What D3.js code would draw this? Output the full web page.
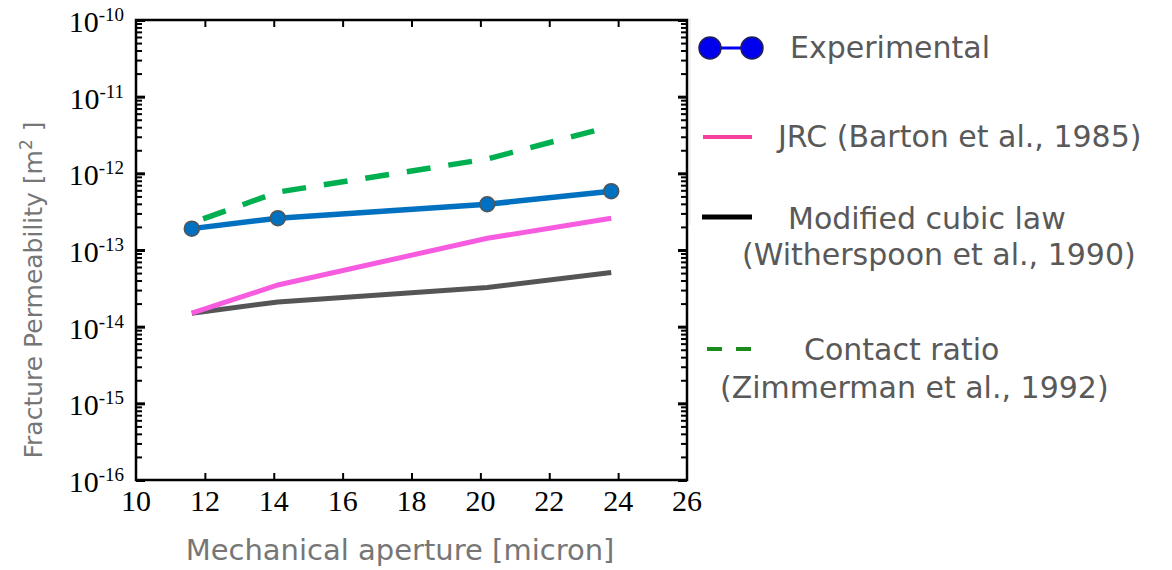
<!DOCTYPE html>
<html>
<head>
<meta charset="utf-8">
<script src="https://cdn.jsdelivr.net/npm/d3@7"></script>
<style>
html,body{margin:0;padding:0;background:#fff;}
svg{display:block;}
</style>
</head>
<body>
<svg id="chart" width="1172" height="570"></svg>
<script>
// ---- data ----
const apertures = [11.62, 14.12, 20.2, 23.8];
const experimental = [1.9e-13, 2.6e-13, 3.95e-13, 5.85e-13];
const jrcBarton = [1.5e-14, 3.5e-14, 1.42e-13, 2.6e-13];
const modifiedCubic = [1.5e-14, 2.1e-14, 3.25e-14, 5.1e-14];
const contactRatio = [2.25e-13, 5.7e-13, 1.54e-12, 4.1e-12];
const xTicks = [10, 12, 14, 16, 18, 20, 22, 24, 26];
const yExponents = [-10, -11, -12, -13, -14, -15, -16];
const legendLabels = [
  ["Experimental"],
  ["JRC (Barton et al., 1985)"],
  ["Modified cubic law", "(Witherspoon et al., 1990)"],
  ["Contact ratio", "(Zimmerman et al., 1992)"]
];

const svg = d3.select("#chart");
const L = 136, R = 687, T = 20, B = 480;
const x = d3.scaleLinear().domain([10, 26]).range([L, R]);
const y = d3.scaleLog().domain([1e-16, 1e-10]).range([B, T]);

// minor/major log ticks
const majors = yExponents.map(e => Math.pow(10, e));
const minors = [];
for (let e = -16; e < -10; e++) for (let m = 2; m <= 9; m++) minors.push(m * Math.pow(10, e));

const tickStyle = g => { g.select(".domain").remove(); g.selectAll("text").remove(); g.selectAll("line").attr("stroke", "#000").attr("stroke-width", 2); };

svg.append("g").attr("transform", `translate(0,${B})`)
  .call(d3.axisBottom(x).tickValues(xTicks.slice(1, -1)).tickSize(-7)).call(tickStyle);
svg.append("g").attr("transform", `translate(0,${T})`)
  .call(d3.axisTop(x).tickValues(xTicks.slice(1, -1)).tickSize(-7)).call(tickStyle);
svg.append("g").attr("transform", `translate(${L},0)`)
  .call(d3.axisLeft(y).tickValues(minors).tickSize(-6)).call(tickStyle);
svg.append("g").attr("transform", `translate(${L},0)`)
  .call(d3.axisLeft(y).tickValues(majors).tickSize(-9)).call(tickStyle)
  .selectAll("line").attr("stroke-width", 3);
svg.append("g").attr("transform", `translate(${R},0)`)
  .call(d3.axisRight(y).tickValues(minors).tickSize(-6)).call(tickStyle);
svg.append("g").attr("transform", `translate(${R},0)`)
  .call(d3.axisRight(y).tickValues(majors).tickSize(-9)).call(tickStyle)
  .selectAll("line").attr("stroke-width", 3);

// frame
svg.append("rect").attr("x", L).attr("y", T).attr("width", R - L).attr("height", B - T)
  .attr("fill", "none").attr("stroke", "#000").attr("stroke-width", 2.5);

// tick labels
svg.append("g").selectAll("text").data(xTicks).join("text")
  .attr("x", d => x(d)).attr("y", B + 31)
  .attr("text-anchor", "middle")
  .attr("font-family", "Liberation Serif, Times New Roman, serif")
  .attr("font-size", 30).attr("fill", "#000")
  .text(d => d);

const yl = svg.append("g").selectAll("text").data(yExponents).join("text")
  .attr("x", 124).attr("y", d => y(Math.pow(10, d)) + 12)
  .attr("text-anchor", "end")
  .attr("font-family", "Liberation Serif, Times New Roman, serif")
  .attr("font-size", 30).attr("fill", "#000");
yl.append("tspan").text("10");
yl.append("tspan").attr("dy", -11).attr("font-size", 19).text(d => String(d));

// axis titles
svg.append("text").attr("x", 400).attr("y", 560).attr("text-anchor", "middle")
  .attr("font-family", "DejaVu Sans, sans-serif").attr("font-size", 29).attr("fill", "#767676")
  .text("Mechanical aperture [micron]");
const yt = svg.append("text").attr("transform", "translate(42,290) rotate(-90)").attr("text-anchor", "middle")
  .attr("font-family", "DejaVu Sans, sans-serif").attr("font-size", 25).attr("fill", "#767676");
yt.append("tspan").text("Fracture Permeability [m");
yt.append("tspan").attr("dy", -10).attr("font-size", 17).text("2");
yt.append("tspan").attr("dy", 10).text(" ]");

// series
const pts = vals => vals.map((v, i) => [x(apertures[i]), y(v)]);
const line = d3.line();
svg.append("path").attr("d", line(pts(modifiedCubic))).attr("fill", "none")
  .attr("stroke", "#555555").attr("stroke-width", 5);
svg.append("path").attr("d", line(pts(jrcBarton))).attr("fill", "none")
  .attr("stroke", "#F75CE0").attr("stroke-width", 5);
svg.append("path").attr("d", line(pts(contactRatio))).attr("fill", "none")
  .attr("stroke", "#00B050").attr("stroke-width", 5.5)
  .attr("stroke-dasharray", "24 18").attr("stroke-dashoffset", 30);
svg.append("path").attr("d", line(pts(experimental))).attr("fill", "none")
  .attr("stroke", "#0070C0").attr("stroke-width", 5.5);
svg.append("g").selectAll("circle").data(pts(experimental)).join("circle")
  .attr("cx", d => d[0]).attr("cy", d => d[1]).attr("r", 7.5)
  .attr("fill", "#0070C0").attr("stroke", "#555").attr("stroke-width", 1.5);

// legend
const lg = svg.append("g").attr("font-family", "DejaVu Sans, sans-serif").attr("font-size", 30).attr("fill", "#595959");
lg.append("line").attr("x1", 690).attr("x2", 690).attr("y1", 18).attr("y2", 225).attr("stroke", "#e6e6e6").attr("stroke-width", 1);
lg.append("line").attr("x1", 710).attr("x2", 752).attr("y1", 48).attr("y2", 48).attr("stroke", "#0000EE").attr("stroke-width", 3);
[710, 752].forEach(cx => lg.append("circle").attr("cx", cx).attr("cy", 48).attr("r", 11)
  .attr("fill", "#0000EE").attr("stroke", "#222255").attr("stroke-width", 1.5));
lg.append("line").attr("x1", 703).attr("x2", 752).attr("y1", 137).attr("y2", 137).attr("stroke", "#F5409E").attr("stroke-width", 4);
lg.append("line").attr("x1", 702).attr("x2", 752).attr("y1", 217).attr("y2", 217).attr("stroke", "#000").attr("stroke-width", 5);
lg.append("line").attr("x1", 707).attr("x2", 751).attr("y1", 349).attr("y2", 349).attr("stroke", "#1B8C1B").attr("stroke-width", 4).attr("stroke-dasharray", "15 14");

const legendPos = [
  [[790, 58]],
  [[778, 147]],
  [[788, 229], [742, 265]],
  [[804, 360], [720, 398]]
];
legendLabels.forEach((lines, i) => lines.forEach((t, j) => {
  lg.append("text").attr("x", legendPos[i][j][0]).attr("y", legendPos[i][j][1]).text(t);
}));
</script>
</body>
</html>
